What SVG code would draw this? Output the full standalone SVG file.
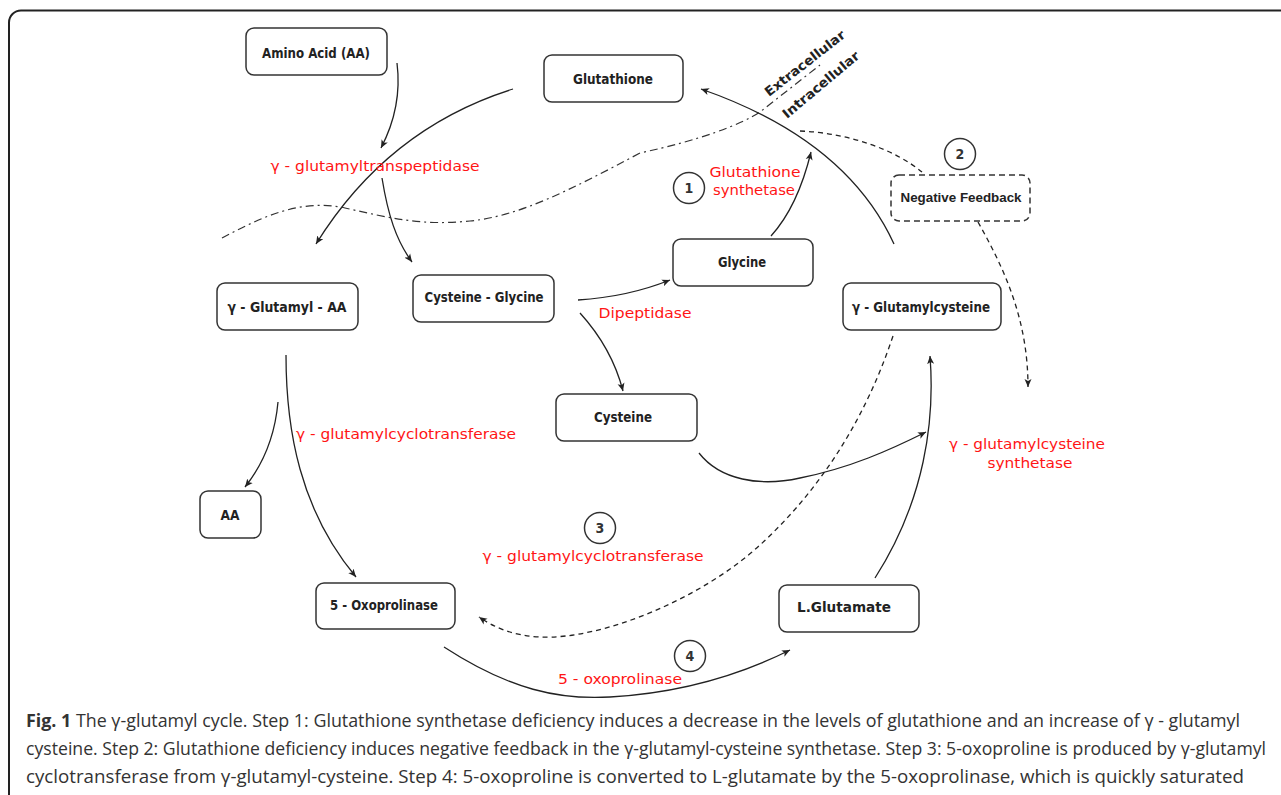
<svg xmlns="http://www.w3.org/2000/svg" width="1281" height="795" viewBox="0 0 1281 795">
<defs>
<marker id="ah" markerUnits="userSpaceOnUse" markerWidth="10" markerHeight="8" refX="8" refY="4" orient="auto">
<path d="M0,0.5 L8,4 L0,7.5 L2,4 z" fill="#222"/>
</marker>
<style>
.frame{fill:none;stroke:#222;stroke-width:2}
.node{fill:#fff;stroke:#333;stroke-width:1.5}
.dnode{fill:#fff;stroke:#333;stroke-width:1.5;stroke-dasharray:6 4}
.lbl{font-family:"DejaVu Sans Condensed","DejaVu Sans",sans-serif;font-weight:bold;font-size:13.5px;fill:#222;text-anchor:middle}
.nf{font-family:"Liberation Sans",Arial,sans-serif;font-weight:bold;font-size:12.5px;fill:#222;text-anchor:middle}
.red{font-family:"DejaVu Sans Condensed","DejaVu Sans",sans-serif;font-size:14.5px;font-weight:500;fill:#ff1515;text-anchor:middle}
.num{font-family:"DejaVu Sans Condensed","DejaVu Sans",sans-serif;font-weight:bold;font-size:14px;fill:#333;text-anchor:middle}
.circ{fill:#fff;stroke:#333;stroke-width:1.5}
.conn{fill:none;stroke:#222;stroke-width:1.3}
.dash{fill:none;stroke:#222;stroke-width:1.3;stroke-dasharray:5 4}
.membrane{fill:none;stroke:#333;stroke-width:1.2;stroke-dasharray:8 4 2 4}
.rot{font-family:"DejaVu Sans Condensed","DejaVu Sans",sans-serif;font-weight:bold;font-size:13px;fill:#222}
.cap{font-family:"Open Sans","Noto Sans",sans-serif;font-size:17.5px;fill:#333}
</style>
</defs>
<rect width="1281" height="795" fill="#fff"/>
<rect class="frame" x="9" y="10.5" width="1300" height="800" rx="12"/>

<g id="membrane">
<path class="membrane" d="M222,238 C260,218 300,198 345,208 S420,226 470,221 S570,190 640,153 C700,140 740,125 760,112 L820,65"/>
<text class="rot" transform="translate(769,97) rotate(-38)" textLength="98" lengthAdjust="spacingAndGlyphs">Extracellular</text>
<text class="rot" transform="translate(787,119) rotate(-40)" textLength="96" lengthAdjust="spacingAndGlyphs">Intracellular</text>
</g>

<g id="connectors">
<path class="conn" marker-end="url(#ah)" d="M397,63 C401,95 393,125 381,148"/>
<path class="conn" marker-end="url(#ah)" d="M513,89 C430,115 365,165 316,244"/>
<path class="conn" marker-end="url(#ah)" d="M382,178 C388,215 396,240 412,262"/>
<path class="conn" marker-end="url(#ah)" d="M578,300 C610,298 640,292 670,280"/>
<path class="conn" marker-end="url(#ah)" d="M580,313 C600,335 615,360 623,391"/>
<path class="conn" marker-end="url(#ah)" d="M771,236 C790,215 803,185 811,152"/>
<path class="conn" marker-end="url(#ah)" d="M894,244 C860,170 790,120 701,89"/>
<path class="dash" d="M800,131 C850,133 895,150 922,172"/>
<path class="dash" marker-end="url(#ah)" d="M978,222 C1005,270 1028,320 1028,387"/>
<path class="dash" marker-end="url(#ah)" d="M893,336 C865,420 820,490 760,545 C700,600 600,640 540,637 C515,636 495,628 479,617"/>
<path class="conn" marker-end="url(#ah)" d="M699,453 C720,480 760,487 800,478 C850,468 890,450 926,432"/>
<path class="conn" marker-end="url(#ah)" d="M875,578 C925,500 935,420 930,356"/>
<path class="conn" marker-end="url(#ah)" d="M278,402 C275,435 265,462 245,487"/>
<path class="conn" marker-end="url(#ah)" d="M286,355 C286,430 300,510 356,577"/>
<path class="conn" marker-end="url(#ah)" d="M444,647 C510,690 560,700 610,697 C680,693 740,675 790,650"/>
</g>

<g id="n-amino-acid"><rect class="node" x="246" y="28" width="141" height="47" rx="8"/><text class="lbl" x="316" y="58" textLength="108" lengthAdjust="spacingAndGlyphs">Amino Acid (AA)</text></g>
<g id="n-glutathione"><rect class="node" x="544" y="55" width="139" height="47" rx="8"/><text class="lbl" x="613" y="84" textLength="80" lengthAdjust="spacingAndGlyphs">Glutathione</text></g>
<g id="n-negative-feedback"><rect class="dnode" x="891" y="175" width="139" height="46" rx="8"/><text class="nf" x="961" y="202" textLength="121" lengthAdjust="spacingAndGlyphs">Negative Feedback</text></g>
<g id="n-glycine"><rect class="node" x="673" y="239" width="140" height="47" rx="8"/><text class="lbl" x="742" y="267" textLength="48" lengthAdjust="spacingAndGlyphs">Glycine</text></g>
<g id="n-glutamylcysteine"><rect class="node" x="843" y="283" width="158" height="47" rx="8"/><text class="lbl" x="921" y="312" textLength="138" lengthAdjust="spacingAndGlyphs">γ - Glutamylcysteine</text></g>
<g id="n-glutamyl-aa"><rect class="node" x="217" y="283" width="141" height="47" rx="8"/><text class="lbl" x="287" y="312" textLength="119" lengthAdjust="spacingAndGlyphs">γ - Glutamyl - AA</text></g>
<g id="n-cysteine-glycine"><rect class="node" x="413" y="275" width="141" height="47" rx="8"/><text class="lbl" x="484" y="302" textLength="119" lengthAdjust="spacingAndGlyphs">Cysteine - Glycine</text></g>
<g id="n-cysteine"><rect class="node" x="556" y="394" width="141" height="47" rx="8"/><text class="lbl" x="623" y="422" textLength="58" lengthAdjust="spacingAndGlyphs">Cysteine</text></g>
<g id="n-aa"><rect class="node" x="200" y="491" width="61" height="47" rx="8"/><text class="lbl" x="230" y="520" textLength="19" lengthAdjust="spacingAndGlyphs">AA</text></g>
<g id="n-5-oxoprolinase"><rect class="node" x="316" y="583" width="139" height="46" rx="8"/><text class="lbl" x="384" y="610" textLength="108" lengthAdjust="spacingAndGlyphs">5 - Oxoprolinase</text></g>
<g id="n-l-glutamate"><rect class="node" x="779" y="585" width="140" height="47" rx="8"/><text class="lbl" x="844" y="612" textLength="94" lengthAdjust="spacingAndGlyphs">L.Glutamate</text></g>

<g id="step-1"><circle class="circ" cx="689" cy="188" r="15.5"/><text class="num" x="689" y="193">1</text></g>
<g id="step-2"><circle class="circ" cx="960" cy="154" r="15.5"/><text class="num" x="960" y="159">2</text></g>
<g id="step-3"><circle class="circ" cx="600" cy="528" r="15.5"/><text class="num" x="600" y="533">3</text></g>
<g id="step-4"><circle class="circ" cx="690" cy="656" r="15.5"/><text class="num" x="690" y="661">4</text></g>

<g id="enzymes">
<text class="red" x="375" y="171" textLength="209" lengthAdjust="spacingAndGlyphs">γ - glutamyltranspeptidase</text>
<text class="red" x="755" y="177" textLength="91" lengthAdjust="spacingAndGlyphs">Glutathione</text>
<text class="red" x="754" y="195" textLength="82" lengthAdjust="spacingAndGlyphs">synthetase</text>
<text class="red" x="645" y="318" textLength="93" lengthAdjust="spacingAndGlyphs">Dipeptidase</text>
<text class="red" x="406" y="439" textLength="220" lengthAdjust="spacingAndGlyphs">γ - glutamylcyclotransferase</text>
<text class="red" x="1027" y="449" textLength="156" lengthAdjust="spacingAndGlyphs">γ - glutamylcysteine</text>
<text class="red" x="1030" y="468" textLength="85" lengthAdjust="spacingAndGlyphs">synthetase</text>
<text class="red" x="593" y="561" textLength="221" lengthAdjust="spacingAndGlyphs">γ - glutamylcyclotransferase</text>
<text class="red" x="620" y="684" textLength="124" lengthAdjust="spacingAndGlyphs">5 - oxoprolinase</text>
</g>

<g id="caption">
<text class="cap" x="26" y="727" textLength="1214" lengthAdjust="spacingAndGlyphs"><tspan font-weight="bold">Fig. 1</tspan> The γ-glutamyl cycle. Step 1: Glutathione synthetase deficiency induces a decrease in the levels of glutathione and an increase of γ - glutamyl</text>
<text class="cap" x="26" y="755" textLength="1240" lengthAdjust="spacingAndGlyphs">cysteine. Step 2: Glutathione deficiency induces negative feedback in the γ-glutamyl-cysteine synthetase. Step 3: 5-oxoproline is produced by γ-glutamyl</text>
<text class="cap" x="26" y="783" textLength="1218" lengthAdjust="spacingAndGlyphs">cyclotransferase from γ-glutamyl-cysteine. Step 4: 5-oxoproline is converted to L-glutamate by the 5-oxoprolinase, which is quickly saturated</text>
</g>
</svg>
